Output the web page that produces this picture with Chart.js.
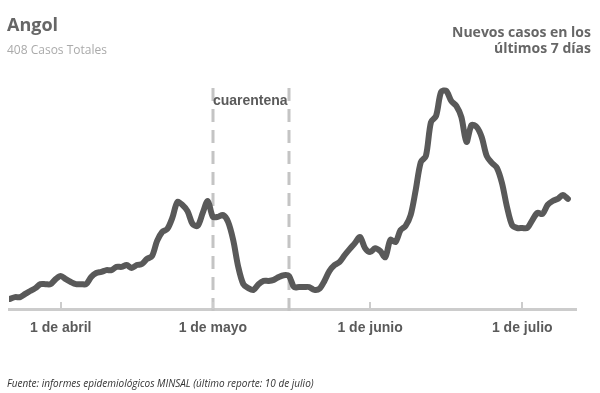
<!DOCTYPE html>
<html>
<head>
<meta charset="utf-8">
<script src="https://cdn.jsdelivr.net/npm/chart.js@4"></script>
<style>
  html, body { margin: 0; padding: 0; background: #fff; }
  #wrap { position: relative; width: 600px; height: 393px; font-family: "Open Sans", sans-serif; }
  canvas { position: absolute; left: 0; top: 0; }
  .t { position: absolute; white-space: nowrap; }
  #title { left: 7px; top: 12px; font-size: 18px; font-weight: 700; color: #666; }
  #sub { left: 7px; top: 41px; font-size: 12px; color: #aaa; }
  #right { right: 9px; top: 24px; font-size: 14px; font-weight: 700; color: #666; text-align: right; line-height: 16px; }
  #foot { left: 7px; top: 376px; font-size: 10px; font-style: italic; color: #333; }
</style>
</head>
<body>
<div id="wrap">
  <canvas id="chart" width="600" height="393"></canvas>
  <div class="t" id="title">Angol</div>
  <div class="t" id="sub">408 Casos Totales</div>
  <div class="t" id="right">Nuevos casos en los<br>últimos 7 días</div>
  <div class="t" id="foot">Fuente: informes epidemiológicos MINSAL (último reporte: 10 de julio)</div>
</div>
<script>
// días desde el 22 de marzo hasta el 10 de julio
const startDate = '2020-03-22';
const newCases7d = [
  2.8, 3.3, 3.3, 4.2, 5.0, 5.8, 6.9, 6.9, 6.9, 8.3,
  9.2, 8.3, 7.5, 6.9, 6.9, 6.9, 8.9, 10.0, 10.3, 10.8,
  10.8, 11.7, 11.7, 12.2, 11.4, 12.2, 12.5, 13.9, 14.7, 18.9,
  21.4, 22.2, 25.3, 29.7, 28.9, 27.2, 23.6, 23.1, 26.7, 30.0,
  25.6, 25.6, 26.1, 24.2, 19.2, 11.7, 6.9, 5.8, 5.3, 6.9,
  7.8, 7.8, 8.1, 8.9, 9.4, 9.2, 6.1, 6.1, 6.1, 6.1,
  5.3, 5.6, 7.8, 10.6, 12.2, 13.1, 15.0, 16.7, 18.3, 20.0,
  16.9, 15.8, 16.9, 16.1, 14.4, 19.2, 18.6, 21.9, 23.1, 26.1,
  33.1, 40.8, 42.5, 51.9, 53.6, 60.3, 60.6, 57.8, 56.4, 53.3,
  46.4, 51.1, 50.6, 47.8, 42.5, 40.6, 39.2, 35.0, 28.3, 23.3,
  22.5, 22.5, 22.5, 24.7, 26.7, 26.4, 28.9, 30.0, 30.6, 31.7,
  30.6
];
const tickDays = [10, 40, 71, 101];
const tickLabels = ['1 de abril', '1 de mayo', '1 de junio', '1 de julio'];
const quarantineDays = [40, 55];
const quarantineLabel = 'cuarentena';

const points = newCases7d.map((v, i) => ({ x: i, y: v }));

// líneas de cuarentena y marcas del eje
const extras = {
  id: 'extras',
  beforeDatasetsDraw(chart) {
    const { ctx } = chart;
    const xs = chart.scales.x;
    ctx.save();
    ctx.strokeStyle = '#c4c4c4';
    ctx.lineWidth = 3;
    ctx.setLineDash([13, 8]);
    quarantineDays.forEach(d => {
      const px = Math.round(xs.getPixelForValue(d));
      ctx.beginPath();
      ctx.moveTo(px, 88);
      ctx.lineTo(px, 318);
      ctx.stroke();
    });
    ctx.setLineDash([]);
    ctx.strokeStyle = '#cccccc';
    ctx.lineWidth = 2;
    tickDays.forEach(d => {
      const px = Math.round(xs.getPixelForValue(d));
      ctx.beginPath();
      ctx.moveTo(px, 302);
      ctx.lineTo(px, 309);
      ctx.stroke();
    });
    ctx.fillStyle = '#5a5a5a';
    ctx.font = 'bold 14px "Liberation Sans", Arial, sans-serif';
    ctx.textBaseline = 'middle';
    ctx.textAlign = 'left';
    ctx.fillText(quarantineLabel, xs.getPixelForValue(quarantineDays[0]), 101);
    ctx.restore();
  }
};

new Chart(document.getElementById('chart').getContext('2d'), {
  type: 'line',
  data: {
    datasets: [{
      data: points,
      borderColor: '#595959',
      borderWidth: 6,
      pointRadius: 0,
      tension: 0.3,
      borderJoinStyle: 'round',
      borderCapStyle: 'round',
      fill: false
    }]
  },
  options: {
    responsive: false,
    animation: false,
    events: [],
    layout: { padding: { left: 9, right: 24, top: 57, bottom: 54 } },
    plugins: { legend: { display: false }, tooltip: { enabled: false } },
    scales: {
      x: {
        type: 'linear',
        min: -0.2,
        max: 111.6,
        afterFit: s => { s.height = 30; },
        afterBuildTicks: s => { s.ticks = tickDays.map(v => ({ value: v })); },
        grid: { display: false },
        border: { display: true, color: '#cccccc', width: 3 },
        ticks: {
          padding: 3,
          color: '#5a5a5a',
          font: { family: '"Liberation Sans", Arial, sans-serif', size: 14, weight: 'bold' },
          maxRotation: 0,
          callback: v => tickLabels[tickDays.indexOf(v)]
        }
      },
      y: { display: false, min: 0, max: 70 }
    }
  },
  plugins: [extras]
});
</script>
</body>
</html>
